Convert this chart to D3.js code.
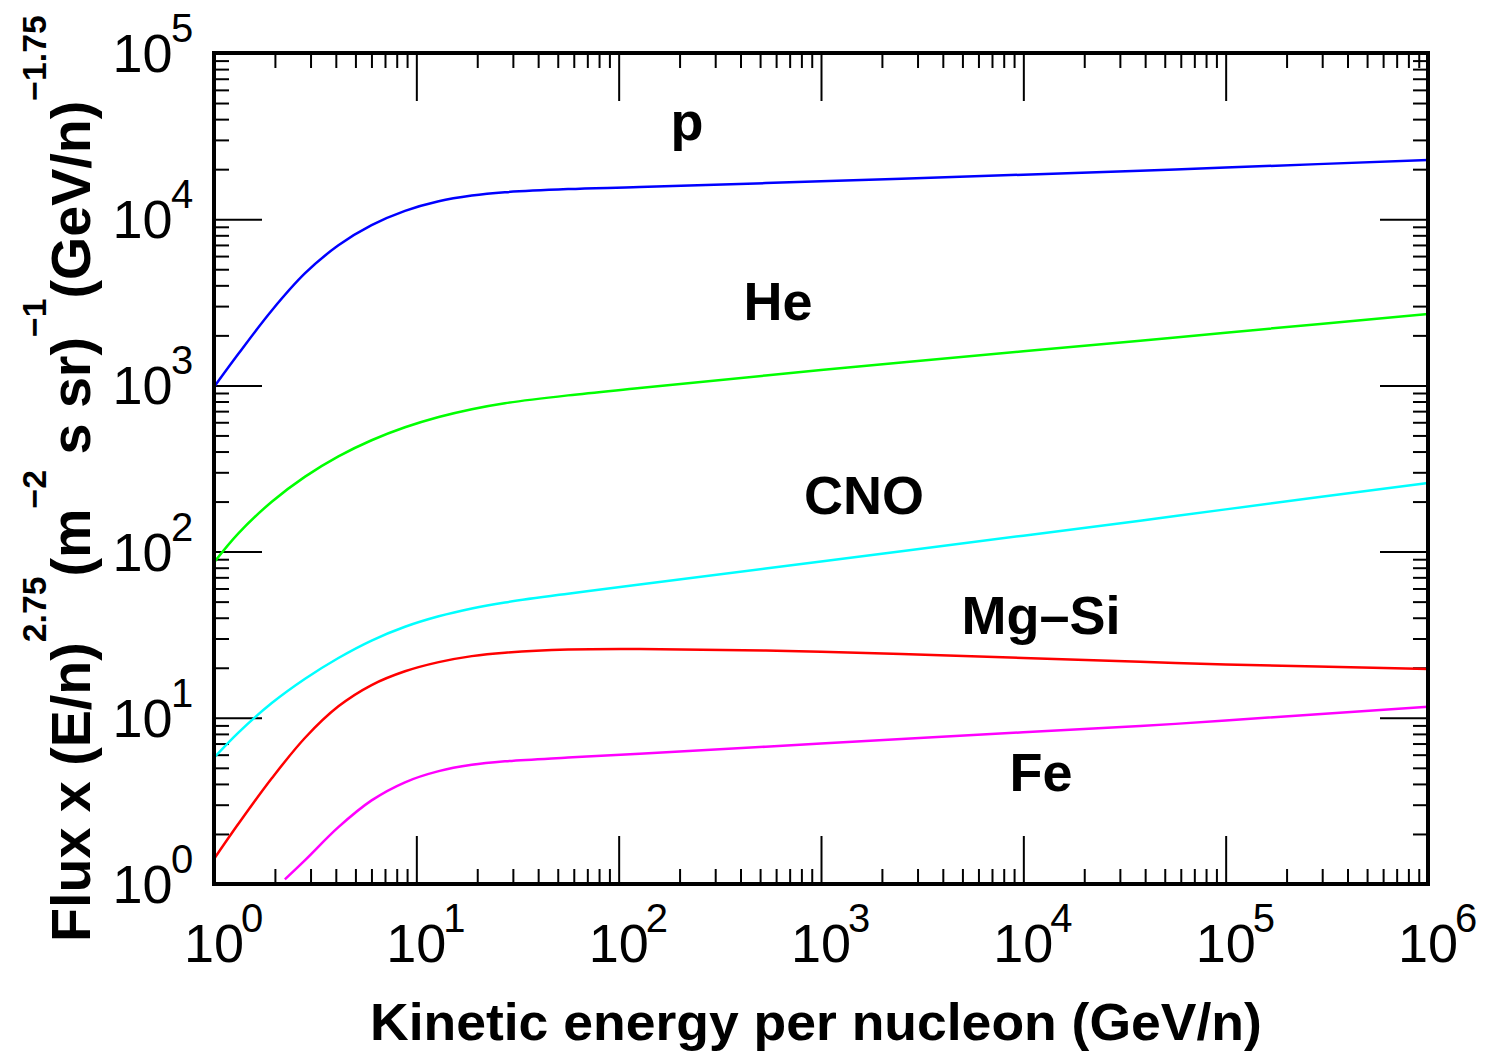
<!DOCTYPE html>
<html>
<head>
<meta charset="utf-8">
<script src="https://cdn.jsdelivr.net/npm/d3@7"></script>
<style>
  html, body { margin: 0; padding: 0; background: #fff; }
  svg { display: block; }
  text { font-family: "Liberation Sans", Arial, Helvetica, sans-serif; }
</style>
</head>
<body>
<svg id="chart" width="1495" height="1054"></svg>
<script>
// Kinetic energy per nucleon (GeV/n), shared grid
const energy = [1, 1.32, 1.93, 2.82, 4.12, 6.01, 8.79, 12.9, 18.8, 27.4, 56.2, 127, 1e3, 1e4, 3.78e4, 1e5, 1e6];
// Fe starts above 2 GeV/n
const energyFe = [2.24, 2.82, 4.12, 6.01, 8.79, 12.9, 18.8, 27.4, 56.2, 127, 1e3, 1e4, 3.78e4, 1e5, 1e6];

// Flux x (E/n)^2.75 per species
const fluxP     = [977, 1549, 2825, 4732, 6966, 9204, 11220, 12823, 13868, 14521, 15171, 15596, 16904, 18535, 19588, 20460, 22699];
const fluxHe    = [86.1, 128.8, 199.5, 282.5, 374.1, 467.7, 559.8, 645.7, 719.5, 781.6, 871.0, 963.8, 1236, 1603, 1858, 2075, 2692];
const fluxCNO   = [5.75, 8.15, 12.27, 17.18, 22.91, 29.17, 35.32, 40.83, 45.50, 49.43, 55.85, 63.39, 87.30, 124.7, 153.5, 179.5, 258.8];
const fluxMgSi  = [1.413, 2.301, 4.325, 7.586, 11.72, 15.74, 19.05, 21.63, 23.50, 24.66, 25.76, 25.94, 25.00, 22.91, 21.73, 20.94, 19.68];
const fluxFe    = [1.067, 1.393, 2.198, 3.184, 4.093, 4.775, 5.212, 5.470, 5.768, 6.081, 6.998, 8.185, 8.913, 9.638, 11.64];

const seriesNames  = ["p", "He", "CNO", "Mg\u2013Si", "Fe"];
const seriesColors = ["#0000ff", "#00ff00", "#00ffff", "#ff0000", "#ff00ff"];

const xTickExp = [0, 1, 2, 3, 4, 5, 6];
const yTickExp = [0, 1, 2, 3, 4, 5];

const xTitle = "Kinetic energy per nucleon (GeV/n)";

const svg = d3.select("#chart");
const L = 214, R = 1428, T = 53, B = 884;

const x = d3.scaleLog().domain([1, 1e6]).range([L, R]);
const y = d3.scaleLog().domain([1, 1e5]).range([B, T]);

function minorValues(d0, d1) {
  const v = [];
  for (let d = d0; d < d1; d++) for (let k = 2; k <= 9; k++) v.push(k * Math.pow(10, d));
  return v;
}
const xMajor = xTickExp.map(e => Math.pow(10, e));
const yMajor = yTickExp.map(e => Math.pow(10, e));
const xMinor = minorValues(0, 6);
const yMinor = minorValues(0, 5);

// Inward ticks on all four sides
function tickAxis(axisFn, scale, values, size, transform) {
  const g = svg.append("g").attr("transform", transform)
    .call(axisFn(scale).tickValues(values).tickSize(-size).tickFormat(""));
  g.select(".domain").remove();
  g.selectAll(".tick line").attr("stroke", "#000").attr("stroke-width", 2);
  return g;
}
tickAxis(d3.axisBottom, x, xMajor, 48, `translate(0,${B})`);
tickAxis(d3.axisBottom, x, xMinor, 15, `translate(0,${B})`);
tickAxis(d3.axisTop, x, xMajor, 48, `translate(0,${T})`);
tickAxis(d3.axisTop, x, xMinor, 15, `translate(0,${T})`);
tickAxis(d3.axisLeft, y, yMajor, 48, `translate(${L},0)`);
tickAxis(d3.axisLeft, y, yMinor, 15, `translate(${L},0)`);
tickAxis(d3.axisRight, y, yMajor, 48, `translate(${R},0)`);
tickAxis(d3.axisRight, y, yMinor, 15, `translate(${R},0)`);

// Curves
const line = d3.line()
  .x(d => x(d[0]))
  .y(d => y(d[1]))
  .curve(d3.curveCatmullRom.alpha(0.5));

const seriesData = [
  d3.zip(energy, fluxP),
  d3.zip(energy, fluxHe),
  d3.zip(energy, fluxCNO),
  d3.zip(energy, fluxMgSi),
  d3.zip(energyFe, fluxFe)
];
svg.append("g").selectAll("path")
  .data(seriesData)
  .join("path")
  .attr("d", line)
  .attr("fill", "none")
  .attr("stroke", (d, i) => seriesColors[i])
  .attr("stroke-width", 2.5);

// Frame
svg.append("rect")
  .attr("x", L).attr("y", T)
  .attr("width", R - L).attr("height", B - T)
  .attr("fill", "none").attr("stroke", "#000").attr("stroke-width", 4);

// Tick labels: 10 with superscript exponent
const xl = svg.append("g");
xTickExp.forEach(e => {
  const px = x(Math.pow(10, e));
  xl.append("text").attr("x", px).attr("y", 962)
    .attr("text-anchor", "middle").attr("font-size", 54).text("10");
  xl.append("text").attr("x", px + 27).attr("y", 932)
    .attr("font-size", 40).text(String(e));
});
const yl = svg.append("g");
yTickExp.forEach(e => {
  const py = y(Math.pow(10, e));
  yl.append("text").attr("x", 172.5).attr("y", py + 19)
    .attr("text-anchor", "end").attr("font-size", 54).text("10");
  yl.append("text").attr("x", 171).attr("y", py - 11)
    .attr("font-size", 40).text(String(e));
});

// Species labels
const labelPos = [[687, 140], [778, 320], [864, 514], [1041, 634], [1041, 791]];
svg.append("g").selectAll("text")
  .data(seriesNames)
  .join("text")
  .attr("x", (d, i) => labelPos[i][0])
  .attr("y", (d, i) => labelPos[i][1])
  .attr("text-anchor", "middle")
  .attr("font-size", 54)
  .attr("font-weight", "bold")
  .text(d => d);

// X axis title, fitted to its span
const xt = svg.append("text")
  .attr("x", 0).attr("y", 0)
  .attr("font-size", 52).attr("font-weight", "bold")
  .text(xTitle);
{
  const w = xt.node().getBBox().width;
  const target = 892;
  xt.attr("transform", `translate(${816 - target / 2},1040) scale(${target / w},1)`);
}

// Y axis title with superscripts
const yg = svg.append("g").attr("transform", "translate(90,942) rotate(-90)");
const yt = yg.append("text").attr("font-weight", "bold").attr("font-size", 56);
const up = 44;
const parts = [
  ["Flux x (E/n)", 0],
  ["2.75", 1],
  ["(m", 0],
  ["\u22122", 1],
  [" s sr)", 0],
  ["\u22121", 1],
  ["(GeV/n)", 0],
  ["\u22121.75", 1]
];
let level = 0;
parts.forEach(([s, sup]) => {
  const ts = yt.append("tspan").text(s);
  if (sup !== level) {
    ts.attr("dy", sup ? -up : up);
    level = sup;
  }
  ts.attr("font-size", sup ? 34 : 56);
});
{
  const w = yt.node().getBBox().width;
  const target = 927;
  yt.attr("transform", `scale(${target / w},1)`);
}
</script>
</body>
</html>
